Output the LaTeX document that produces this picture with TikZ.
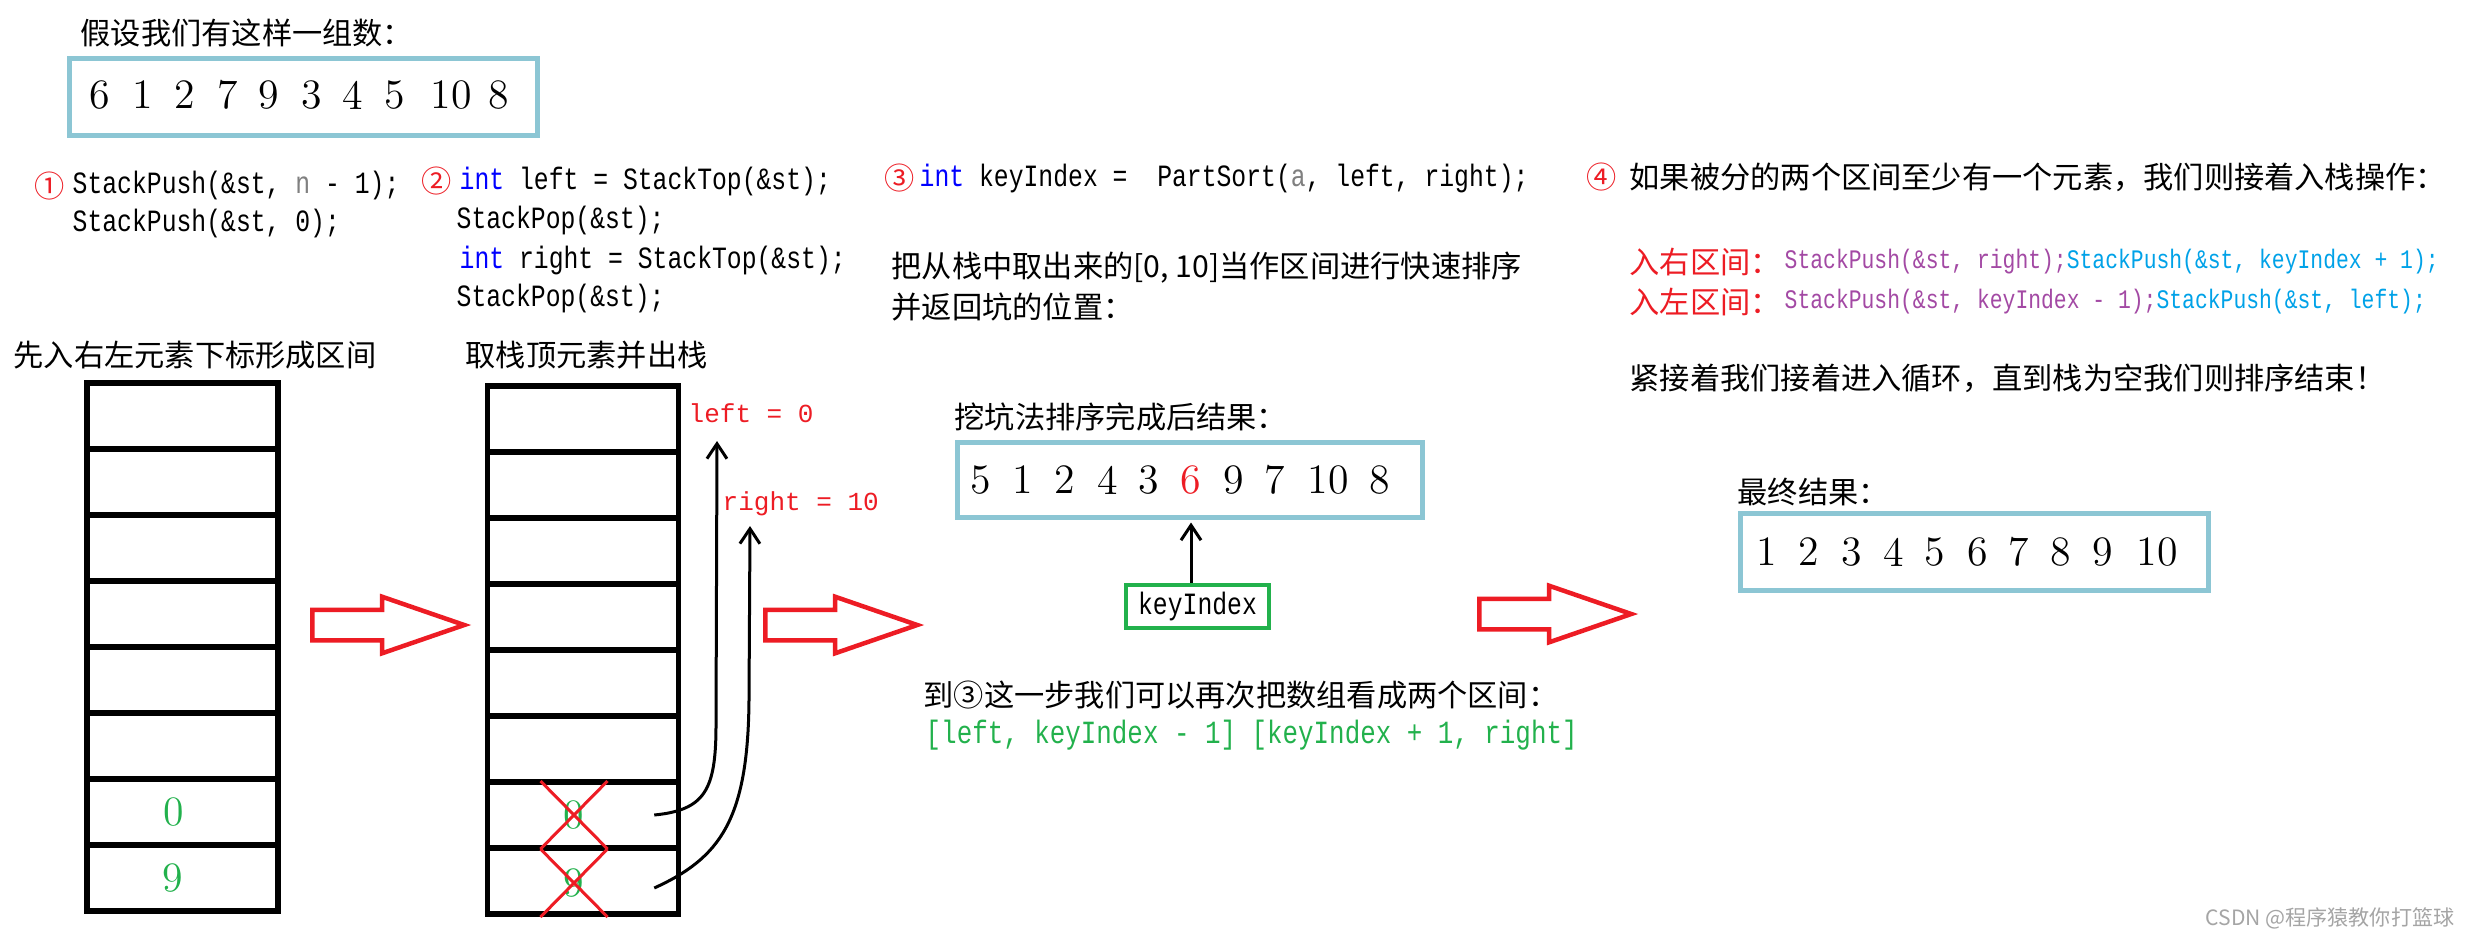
\documentclass[tikz,border=0pt]{standalone}
\usepackage{fontspec}
\setmainfont{Noto Sans CJK SC}
\newfontfamily\codefont[FakeStretch=0.8]{Liberation Mono}
\newfontfamily\monofont{Liberation Mono}
\newfontfamily\numfont{Latin Modern Roman}
\usetikzlibrary{arrows.meta,shapes.arrows,shapes.misc}

\definecolor{pRed}{RGB}{237,28,36}
\definecolor{boxBlue}{RGB}{140,198,212}
\definecolor{cGreen}{RGB}{34,177,76}
\definecolor{cPurple}{RGB}{163,73,164}
\definecolor{cSky}{RGB}{0,162,232}
\definecolor{kwBlue}{RGB}{0,0,255}
\definecolor{argGray}{RGB}{128,128,128}
\definecolor{markGray}{RGB}{165,165,165}

\tikzset{
  zh/.style={anchor=west, inner sep=0pt, font=\fontsize{8.6}{10}\selectfont},
  codetxt/.style={anchor=west, inner sep=0pt, font=\codefont\fontsize{8.8}{10}\selectfont},
  codesm/.style={anchor=west, inner sep=0pt, font=\codefont\fontsize{7.6}{9}\selectfont},
  circnum/.style={inner sep=0pt, text=pRed, font=\fontsize{8.6}{10}\selectfont},
  numbox/.style={draw=boxBlue, line width=0.5mm, minimum width=#1, minimum height=7.7mm},
  digit/.style={inner sep=0pt, font=\numfont\fontsize{11.9}{13}\selectfont},
  stackcell/.style={draw, line width=0.55mm, minimum width=19.1mm, minimum height=6.6mm, inner sep=0pt},
  crossed/.style={cross out, draw=pRed, line width=0.3mm, text=cGreen, minimum width=6.4mm,
    minimum height=6.5mm, inner sep=0pt, font=\numfont\fontsize{11.9}{13}\selectfont},
  popval/.style={anchor=west, inner sep=0pt, text=pRed, font=\monofont\fontsize{7.4}{9}\selectfont},
  popline/.style={line width=0.3mm, -{Straight Barb[length=1.5mm,width=2mm]}},
  keybox/.style={draw=cGreen, line width=0.4mm, minimum width=14.3mm, minimum height=4.3mm,
    inner sep=0pt, font=\codefont\fontsize{8.8}{10}\selectfont},
  bigarrow/.style={single arrow, draw=pRed, line width=0.45mm, fill=white, minimum height=15.2mm,
    minimum width=5.2mm, single arrow head extend=1.3mm, single arrow tip angle=38,
    inner xsep=0pt, inner ysep=1.3mm, anchor=tail},
}

\begin{document}
\begin{tikzpicture}[x=0.1mm, y=-0.1mm]
\path[use as bounding box, fill=white] (0,0) rectangle (2472,937);

% input array
\node[zh] (head1) at (80,33) {假设我们有这样一组数：};
\node[numbox=46.8mm] (arr1) at (303,96.5) {};
\foreach \v/\x [count=\i] in {6/100,1/143,2/185,7/228,9/269,3/312,4/353,5/395,10/451,8/499}
  \node[digit] (a\i) at (\x,95) {\v};

% step 1
\node[circnum] (c1) at (50,186) {①};
\node[codetxt] (s1a) at (72,185) {StackPush(\&st, {\color{argGray}n} - 1);};
\node[codetxt] (s1b) at (72,223) {StackPush(\&st, 0);};

% step 2
\node[circnum] (c2) at (437,181) {②};
\node[codetxt] (s2a) at (459,181) {{\color{kwBlue}int} left = StackTop(\&st);};
\node[codetxt] (s2b) at (456,220) {StackPop(\&st);};
\node[codetxt] (s2c) at (459,260) {{\color{kwBlue}int} right = StackTop(\&st);};
\node[codetxt] (s2d) at (456,298) {StackPop(\&st);};

% step 3
\node[circnum] (c3) at (900,178) {③};
\node[codetxt] (s3a) at (919,178) {{\color{kwBlue}int} keyIndex = ~PartSort({\color{argGray}a}, left, right);};
\node[zh] (s3b) at (891,268) {把从栈中取出来的[0, 10]当作区间进行快速排序};
\node[zh] (s3c) at (891,307) {并返回坑的位置：};

% step 4
\node[circnum] (c4) at (1602,177) {④};
\node[zh] (s4a) at (1629,177) {如果被分的两个区间至少有一个元素，我们则接着入栈操作：};
\node[zh, text=pRed] (s4r) at (1629,262) {入右区间：};
\node[codesm] (s4rc) at (1784,262) {{\color{cPurple}StackPush(\&st, right);}{\color{cSky}StackPush(\&st, keyIndex + 1);}};
\node[zh, text=pRed] (s4l) at (1629,302) {入左区间：};
\node[codesm] (s4lc) at (1784,302) {{\color{cPurple}StackPush(\&st, keyIndex - 1);}{\color{cSky}StackPush(\&st, left);}};
\node[zh] (s4b) at (1629,378) {紧接着我们接着进入循环，直到栈为空我们则排序结束！};

% stack after pushing
\node[zh] (st1) at (13,355) {先入右左元素下标形成区间};
\foreach \i in {1,...,8}
  \node[stackcell] (l\i) at (182.5,{416+66*(\i-1)}) {};
\node[digit, text=cGreen] (l7v) at ([xshift=-0.85mm]l7.center) {0};
\node[digit, text=cGreen] (l8v) at ([xshift=-1mm]l8.center) {9};

% stack after popping
\node[zh] (st2) at (465,355) {取栈顶元素并出栈};
\foreach \i in {1,...,8}
  \node[stackcell] (r\i) at (583,{419+66*(\i-1)}) {};
\node[crossed] (r7v) at ([xshift=-0.9mm]r7.center) {0};
\node[crossed] (r8v) at ([xshift=-0.9mm,yshift=-0.2mm]r8.center) {9};

\node[popval] (lft) at (688,413) {left = 0};
\node[popval] (rgt) at (722,504) {right = 10};
\coordinate (lt) at (717,441);
\coordinate (rt) at (750,526);
\draw[popline] ([xshift=-2.7mm]r7.east) .. controls (705,810) and (716,790) .. (716,725) -- (lt);
\draw[popline] ([xshift=-2.7mm,yshift=-0.7mm]r8.east) .. controls (720,858) and (748,820) .. (749,700) -- (rt);

% big arrows
\node[bigarrow] (go1) at (310,625) {};
\node[bigarrow] (go2) at (763,625) {};
\node[bigarrow] (go3) at (1477,614) {};

% after one partition
\node[zh] (head2) at (954,417) {挖坑法排序完成后结果：};
\node[numbox=46.5mm, minimum height=7.5mm] (arr2) at (1189.5,479.5) {};
\foreach \v/\x/\c [count=\i] in {5/981/black,1/1023/black,2/1065/black,4/1108/black,3/1149/black,
    6/1191/pRed,9/1234/black,7/1275/black,10/1328/black,8/1380/black}
  \node[digit, text=\c] (b\i) at (\x,480) {\v};
\node[keybox] (kidx) at (1197.5,606.5) {keyIndex};
\draw[popline, shorten >=0.3mm] (kidx.north -| b6) -- (arr2.south -| b6);

\node[zh] (s5a) at (923,695) {到③这一步我们可以再次把数组看成两个区间：};
\node[codetxt, text=cGreen, font=\codefont\fontsize{9.2}{10}\selectfont] (s5b) at (925,735)
  {[left, keyIndex - 1] [keyIndex + 1, right]};

% final result
\node[zh] (head3) at (1737,492) {最终结果：};
\node[numbox=46.8mm] (arr3) at (1974,551.5) {};
\foreach \v/\x [count=\i] in {1/1767,2/1809,3/1852,4/1894,5/1935,6/1978,7/2019,8/2061,9/2103,10/2157}
  \node[digit] (f\i) at (\x,552) {\v};

\node[anchor=east, inner sep=0pt, text=markGray, font=\fontsize{6}{7}\selectfont] (mark) at (2455,918)
  {CSDN @程序猿教你打篮球};
\end{tikzpicture}
\end{document}
